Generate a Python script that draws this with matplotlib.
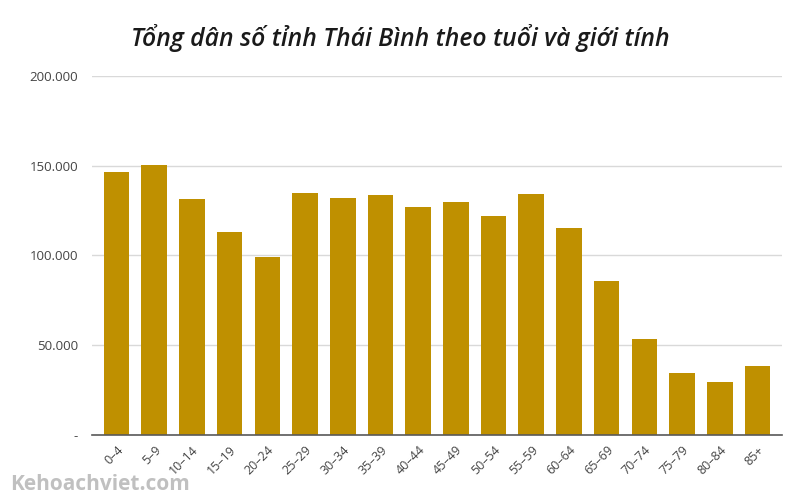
import matplotlib
matplotlib.use("Agg")
import matplotlib.pyplot as plt
from matplotlib.ticker import FuncFormatter

categories = ["0–4", "5–9", "10–14", "15–19", "20–24", "25–29", "30–34", "35–39",
              "40–44", "45–49", "50–54", "55–59", "60–64", "65–69", "70–74",
              "75–79", "80–84", "85+"]
population = [146500, 150400, 131500, 113100, 99200, 134800, 132000, 133700,
              127000, 129800, 122000, 134300, 115300, 85800, 53500, 34500,
              29500, 38400]
yticks = [0, 50000, 100000, 150000, 200000]

plt.rcParams['font.family'] = ['Open Sans', 'DejaVu Sans']

fig = plt.figure(figsize=(8, 5), dpi=100)
ax = fig.add_axes([0.115, 0.13, 0.8625, 0.718])

x = range(len(categories))
ax.bar(x, population, width=0.68, color="#BF9000", zorder=3)

ax.set_ylim(0, 200000)
ax.set_xlim(-0.65, len(categories) - 0.35)
ax.set_yticks(yticks)
ax.yaxis.set_major_formatter(FuncFormatter(
    lambda v, p: "-" if v == 0 else f"{int(v):,}".replace(",", ".")))
ax.set_xticks(list(x))
ax.set_xticklabels(categories, rotation=45, ha="right", rotation_mode="anchor",
                   fontsize=9, color="#444444")
ax.tick_params(axis="y", labelsize=9.5, labelcolor="#444444", length=0, pad=10)
ax.tick_params(axis="x", length=0, pad=6)
ax.grid(axis="y", color="#D9D9D9", linewidth=1, zorder=0)
for s in ["top", "right", "left"]:
    ax.spines[s].set_visible(False)
ax.spines["bottom"].set_color("#595959")
ax.spines["bottom"].set_linewidth(1.2)
ax.spines["bottom"].set_zorder(4)

fig.text(0.5, 0.925, "Tổng dân số tỉnh Thái Bình theo tuổi và giới tính",
         ha="center", va="center", fontsize=17.8, fontweight="semibold",
         fontstyle="italic", color="#1A1A1A")
fig.text(0.0125, 0.03, "Kehoachviet.com", ha="left", va="center", fontsize=15,
         fontweight="bold", color="#C0C0C0")

fig.savefig("out.png", dpi=100)
